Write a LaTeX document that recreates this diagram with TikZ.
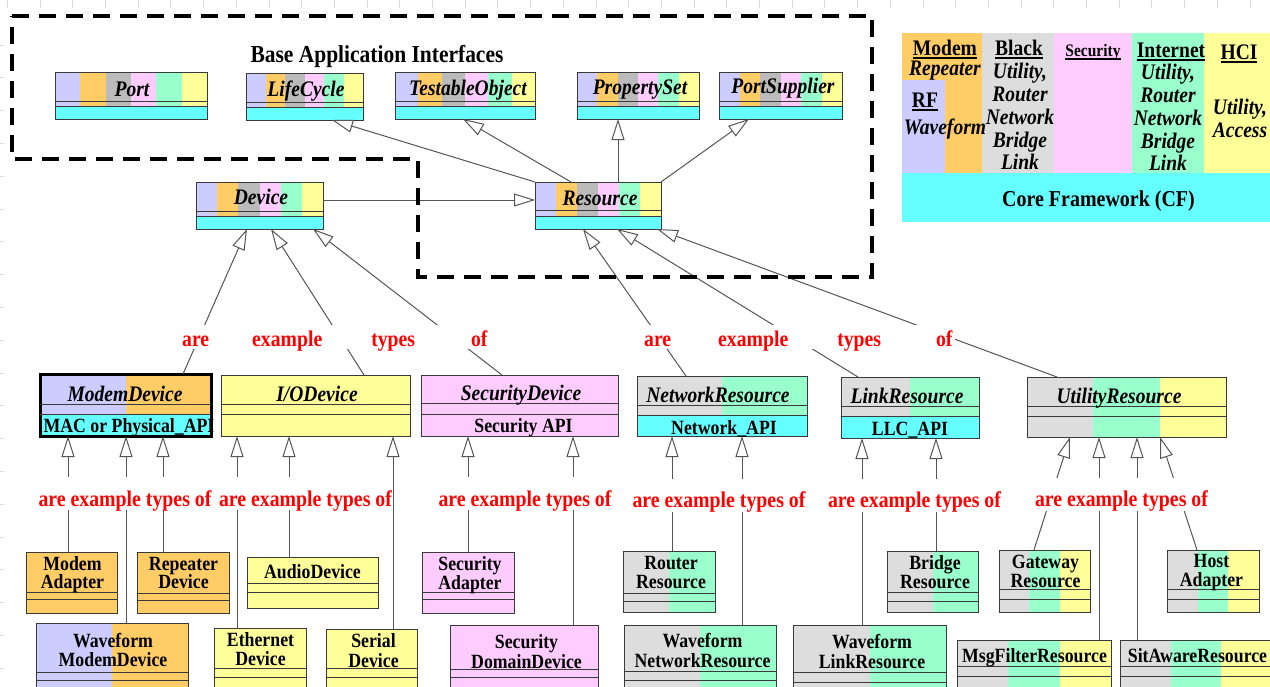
\documentclass[tikz,border=0pt]{standalone}
\usepackage{fontspec}
\setmainfont{Liberation Serif}[FakeStretch=0.88]
\usetikzlibrary{arrows.meta,calc}
\definecolor{lav}{HTML}{CCCCFF}
\definecolor{org}{HTML}{FFCC66}
\definecolor{gry}{HTML}{BBBBBB}
\definecolor{lgr}{HTML}{DDDDDD}
\definecolor{pnk}{HTML}{FFCCFF}
\definecolor{mnt}{HTML}{99FFCC}
\definecolor{ylw}{HTML}{FFFF99}
\definecolor{cyn}{HTML}{66FFFF}
\definecolor{edgec}{HTML}{3A3A3A}
\definecolor{connc}{HTML}{555555}
\definecolor{labred}{HTML}{FF0000}

\newcommand\stripes[6]{%
  \pgfmathsetmacro\stw{(#3-#1)/#5}%
  \foreach \c [count=\i] in {#6} {\fill[\c] ({#1+(\i-1)*\stw},#2) rectangle ({#1+\i*\stw+0.4},#4);}%
}
\newcommand\cbox[8][]{%
  \node[cbox,#1,minimum width={(#5)-(#3)},minimum height={(#6)-(#4)}] (#2) at (#3,#4) {};
  \draw[divl] (#2.west |- 0,#7) -- (#2.east |- 0,#7) (#2.west |- 0,#8) -- (#2.east |- 0,#8);
}
\newcommand\sixbox[7]{%
  \stripes{#2}{#3}{#4}{#7}{6}{lav,org,gry,pnk,mnt,ylw}%
  \fill[cyn] (#2,#7) rectangle (#4,#5);
  \cbox{#1}{#2}{#3}{#4}{#5}{#6}{#7}%
}
\newcommand\ctwo[6]{%
  \node[cname] (#1a) at (#2,#3) {#5};
  \node[cname] (#1b) at (#2,#4) {#6};
}
\newcommand\myul[1]{\setbox0\hbox{#1}\rlap{\rule[-3.6pt]{\wd0}{1.7pt}}\box0}

\begin{document}
\begin{tikzpicture}[x=1pt,y=-1pt,
  cbox/.style={draw=edgec,line width=1pt,inner sep=0pt,outer sep=0pt,anchor=north west},
  modemb/.style={draw=black,line width=3pt},
  divl/.style={draw=edgec,line width=1pt},
  ctitle/.style={anchor=base,inner sep=0pt,font=\bfseries\itshape\fontsize{22.2}{25}\selectfont},
  cname/.style={anchor=base,inner sep=0pt,font=\bfseries\fontsize{20.2}{23}\selectfont},
  lgh/.style={anchor=base,inner sep=0pt,font=\bfseries\fontsize{22.2}{25}\selectfont},
  lgi/.style={anchor=base,inner sep=0pt,font=\bfseries\itshape\fontsize{22.2}{25}\selectfont},
  gen/.style={draw=connc,line width=1pt,-{Triangle[length=21pt,width=13pt,fill=white]}},
  midlab/.style={anchor=base west,text=labred,fill=white,inner xsep=2pt,inner ysep=0pt,
     text height=21pt,text depth=3pt,font=\bfseries\fontsize{22.4}{25}\selectfont},
  botlab/.style={anchor=base,text=labred,fill=white,inner xsep=1pt,inner ysep=0pt,
     text height=29pt,text depth=4pt,font=\bfseries\fontsize{22.5}{25}\selectfont},
  dashframe/.style={draw=black,line width=4pt,dash pattern=on 17pt off 10pt},
  rulertick/.style={draw=black!14,line width=0.8pt}]
\useasboundingbox (0,0) rectangle (1270,686);
\clip (0,0) rectangle (1270,686);
\fill[white] (0,0) rectangle (1270,686);

% faint ruler ticks
\foreach \k in {0,...,38} \draw[rulertick] ({7.3+32.7*\k},0) -- ++(0,8);
\foreach \k in {0,...,19} \draw[rulertick] (0,{45+32.8*\k}) -- ++(4,0);

% ---------- legend ----------
\fill[org] (902,33) rectangle (982.4,173);
\fill[lav] (902,80) rectangle (945,173);
\fill[lgr] (982,33) rectangle (1054.4,173);
\fill[pnk] (1054,33) rectangle (1132.4,173);
\fill[mnt] (1132,33) rectangle (1204.4,173);
\fill[ylw] (1204,33) rectangle (1272,173);
\fill[cyn] (902,172.8) rectangle (1272,222);
\node[lgh] (lgmodem) at (945,55) {\myul{Modem}};
\node[lgi] (lgrep) at (945,75) {Repeater};
\node[lgh] (lgrf) at (925,107) {\myul{RF}};
\node[lgi] (lgwave) at (945,134) {Waveform};
\node[lgh] (lgblack) at (1019,55) {\myul{Black}};
\node[lgi] (lgb1) at (1020,78) {Utility,};
\node[lgi] (lgb2) at (1020,101) {Router};
\node[lgi] (lgb3) at (1020,124) {Network};
\node[lgi] (lgb4) at (1020,147) {Bridge};
\node[lgi] (lgb5) at (1020,169.5) {Link};
\node[lgh,font=\bfseries\fontsize{17.6}{20}\selectfont] (lgsec) at (1093,56) {\myul{Security}};
\node[lgh] (lginet) at (1171,57) {\myul{Internet}};
\node[lgi] (lgi1) at (1168,79) {Utility,};
\node[lgi] (lgi2) at (1168,102) {Router};
\node[lgi] (lgi3) at (1168,125) {Network};
\node[lgi] (lgi4) at (1168,148) {Bridge};
\node[lgi] (lgi5) at (1168,170) {Link};
\node[lgh] (lghci) at (1239,59) {\myul{HCI}};
\node[lgi] (lgh1) at (1240,114) {Utility,};
\node[lgi] (lgh2) at (1240,137) {Access};
\node[lgh,font=\bfseries\fontsize{22.7}{25}\selectfont] (lgcf) at (1098.5,206) {Core Framework (CF)};

% ---------- base interfaces ----------
\node[anchor=base,inner sep=0pt,font=\bfseries\fontsize{24.4}{27}\selectfont] (bai) at (377,62) {Base Application Interfaces};
\sixbox{port}{55}{72}{207}{119}{101}{106}
\sixbox{life}{246}{73}{363}{120}{102}{107}
\sixbox{test}{395}{72}{535}{119}{101}{106}
\sixbox{prop}{577}{72}{699}{119}{101}{106}
\sixbox{psup}{719}{72}{842}{119}{101}{106}
\sixbox{device}{196}{182}{323}{229}{211}{216}
\sixbox{resource}{535}{182}{661}{229}{210}{216}
\node[ctitle] (portt) at (132,96) {Port};
\node[ctitle] (lifet) at (306,96) {LifeCycle};
\node[ctitle] (testt) at (468,95) {TestableObject};
\node[ctitle] (propt) at (640,94) {PropertySet};
\node[ctitle] (psupt) at (783,93) {PortSupplier};
\node[ctitle] (devicet) at (261,204) {Device};
\node[ctitle] (resourcet) at (600,205) {Resource};

% ---------- middle row ----------
\stripes{40}{374}{211}{414}{2}{lav,org}
\fill[cyn] (40,414) rectangle (211,436);
\cbox[modemb]{modem}{40}{374}{211}{436}{404}{414}
\node[ctitle] (modemt) at (125,401) {ModemDevice};
\node[cname] (modemapi) at (129,432) {MAC or Physical\_API};

\stripes{221}{375}{410}{436}{1}{ylw}
\cbox{iodev}{221}{375}{410}{436}{404}{414}
\node[ctitle] (iodevt) at (317,401) {I/ODevice};

\stripes{421}{375}{618}{436}{1}{pnk}
\cbox{secdev}{421}{375}{618}{436}{403}{414}
\node[ctitle] (secdevt) at (521,400) {SecurityDevice};
\node[cname] (secdevapi) at (523.5,432) {Security API};

\stripes{637}{376}{807}{415}{2}{lgr,mnt}
\fill[cyn] (637,415) rectangle (807,436);
\cbox{netres}{637}{376}{807}{436}{405}{415}
\node[ctitle] (netrest) at (718,402) {NetworkResource};
\node[cname] (netresapi) at (724,434) {Network\_API};

\stripes{841}{377}{979}{416}{2}{lgr,mnt}
\fill[cyn] (841,416) rectangle (979,438);
\cbox{linkres}{841}{377}{979}{438}{406}{416}
\node[ctitle] (linkrest) at (907,403) {LinkResource};
\node[cname] (linkresapi) at (910,435) {LLC\_API};

\stripes{1027}{377}{1226}{437}{3}{lgr,mnt,ylw}
\cbox{utilres}{1027}{377}{1226}{437}{406}{416}
\node[ctitle] (utilrest) at (1119,403) {UtilityResource};

% ---------- bottom rows ----------
\stripes{26}{552}{117}{613}{1}{org}
\cbox{madapt}{26}{552}{117}{613}{592}{599}
\stripes{137}{552}{229}{613}{1}{org}
\cbox{repdev}{137}{552}{229}{613}{593}{600}
\stripes{247}{557}{378}{608}{1}{ylw}
\cbox{audio}{247}{557}{378}{608}{583}{592}
\stripes{422}{552}{514}{613}{1}{pnk}
\cbox{secadapt}{422}{552}{514}{613}{592}{599}
\stripes{623}{551}{715}{612}{2}{lgr,mnt}
\cbox{router}{623}{551}{715}{612}{593}{601}
\stripes{887}{551}{978}{612}{2}{lgr,mnt}
\cbox{bridge}{887}{551}{978}{612}{592}{601}
\stripes{999}{550}{1090}{612}{3}{lgr,mnt,ylw}
\cbox{gateway}{999}{550}{1090}{612}{589}{599}
\stripes{1167}{550}{1259}{612}{3}{lgr,mnt,ylw}
\cbox{host}{1167}{550}{1259}{612}{589}{599}

\stripes{36}{623}{188}{700}{2}{lav,org}
\cbox{wmodem}{36}{623}{188}{700}{672}{680}
\stripes{214}{628}{306}{700}{1}{ylw}
\cbox{ether}{214}{628}{306}{700}{668}{677}
\stripes{326}{629}{417}{700}{1}{ylw}
\cbox{serial}{326}{629}{417}{700}{668}{677}
\stripes{450}{625}{598}{700}{1}{pnk}
\cbox{secdom}{450}{625}{598}{700}{669}{677}
\stripes{624}{625}{776}{700}{2}{lgr,mnt}
\cbox{wnet}{624}{625}{776}{700}{671}{680}
\stripes{793}{625}{946}{700}{2}{lgr,mnt}
\cbox{wlink}{793}{625}{946}{700}{672}{682}
\stripes{957}{640}{1111}{700}{3}{lgr,mnt,ylw}
\cbox{msgf}{957}{640}{1111}{700}{666}{676}
\stripes{1120}{640}{1272}{700}{3}{lgr,mnt,ylw}
\cbox{sitaw}{1120}{640}{1272}{700}{666}{676}

\ctwo{madapt}{72.5}{570}{588}{Modem}{Adapter}
\ctwo{repdev}{183.5}{570}{588}{Repeater}{Device}
\node[cname] (audiot) at (312.5,578) {AudioDevice};
\ctwo{secadapt}{470}{570}{589}{Security}{Adapter}
\ctwo{router}{671}{569}{588}{Router}{Resource}
\ctwo{bridge}{935}{569}{588}{Bridge}{Resource}
\ctwo{gateway}{1045.5}{568}{587}{Gateway}{Resource}
\ctwo{host}{1211.5}{567}{586}{Host}{Adapter}
\ctwo{wmodem}{113}{647}{666}{Waveform}{ModemDevice}
\ctwo{ether}{260.5}{646}{665}{Ethernet}{Device}
\ctwo{serial}{373.5}{647}{667}{Serial}{Device}
\ctwo{secdom}{526.5}{648}{668}{Security}{DomainDevice}
\ctwo{wnet}{702.5}{647}{667}{Waveform}{NetworkResource}
\ctwo{wlink}{872}{648}{668}{Waveform}{LinkResource}
\node[cname] (msgft) at (1034.5,662) {MsgFilterResource};
\node[cname] (sitawt) at (1197.5,662) {SitAwareResource};

% ---------- connectors ----------
\draw[gen] (resource.north west) -- (332,0 |- life.south);
\draw[gen] (571,0 |- resource.north) -- (463,0 |- test.south);
\draw[gen] (618,0 |- resource.north) -- (618,0 |- prop.south);
\draw[gen] (resource.north east) -- (749,0 |- psup.south);
\draw[gen] (device.east |- 0,200) -- (resource.west |- 0,200);

\draw[gen] (183,0 |- modem.north) -- (247,0 |- device.south);
\draw[gen] (364,0 |- iodev.north) -- (271,0 |- device.south);
\draw[gen] (502,0 |- secdev.north) -- (313,0 |- device.south);
\draw[gen] (686,0 |- netres.north) -- (583,0 |- resource.south);
\draw[gen] (858,0 |- linkres.north) -- (617,0 |- resource.south);
\draw[gen] (1057,0 |- utilres.north) -- (657,0 |- resource.south);

\draw[gen] (68,0 |- madapt.north) -- (68,0 |- modem.south);
\draw[gen] (126,0 |- wmodem.north) -- (126,0 |- modem.south);
\draw[gen] (163,0 |- repdev.north) -- (163,0 |- modem.south);
\draw[gen] (237,0 |- ether.north) -- (237,0 |- iodev.south);
\draw[gen] (289,0 |- audio.north) -- (289,0 |- iodev.south);
\draw[gen] (393,0 |- serial.north) -- (393,0 |- iodev.south);
\draw[gen] (468,0 |- secadapt.north) -- (468,0 |- secdev.south);
\draw[gen] (573,0 |- secdom.north) -- (573,0 |- secdev.south);
\draw[gen] (672,0 |- router.north) -- (672,0 |- netres.south);
\draw[gen] (742,0 |- wnet.north) -- (742,0 |- netres.south);
\draw[gen] (862,0 |- wlink.north) -- (862,0 |- linkres.south);
\draw[gen] (936,0 |- bridge.north) -- (936,0 |- linkres.south);
\draw[gen] (1034,0 |- gateway.north) -- (1070,0 |- utilres.south);
\draw[gen] (1099,0 |- msgf.north) -- (1099,0 |- utilres.south);
\draw[gen] (1137,0 |- sitaw.north) -- (1137,0 |- utilres.south);
\draw[gen] (1197,0 |- host.north) -- (1160,0 |- utilres.south);

% ---------- red labels ----------
\node[midlab] (mlab1) at (180,346) {are\hspace{43pt}example\hspace{49pt}types\hspace{56pt}of};
\node[midlab] (mlab2) at (642,346) {are\hspace{47pt}example\hspace{49pt}types\hspace{55pt}of};
\node[botlab] (blab1) at (125,506) {are example types of};
\node[botlab] (blab2) at (305.5,506) {are example types of};
\node[botlab] (blab3) at (525,506) {are example types of};
\node[botlab] (blab4) at (719,507.5) {are example types of};
\node[botlab] (blab5) at (914.5,507.5) {are example types of};
\node[botlab] (blab6) at (1121.5,506.5) {are example types of};

% ---------- dashed frame ----------
\draw[dashframe] (12,16) -- (872,16) -- (872,277) -- (418,277) -- (418,159) -- (12,159) -- cycle;
\end{tikzpicture}
\end{document}
